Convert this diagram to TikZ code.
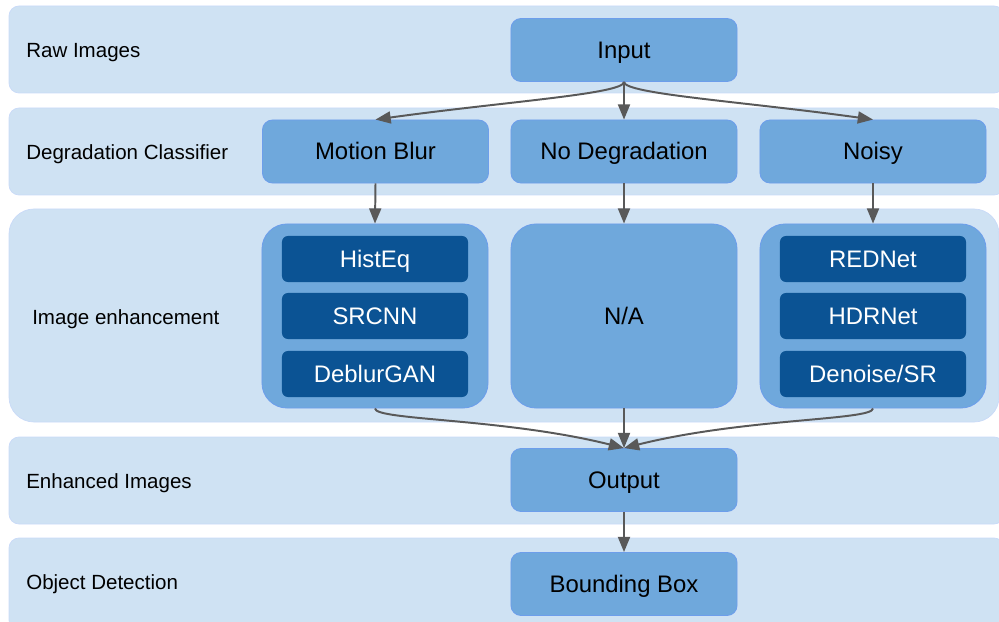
\documentclass[tikz,border=0pt]{standalone}
\usepackage{fontspec}
\setmainfont{Liberation Sans}
\usepackage{xcolor}
\usepackage{tikz}
\usetikzlibrary{arrows.meta}

\definecolor{lanebg}{HTML}{CFE2F3}
\definecolor{laneline}{HTML}{C9DAF8}
\definecolor{stagebg}{HTML}{6FA8DC}
\definecolor{stageline}{HTML}{6D9EEB}
\definecolor{methodbg}{HTML}{0B5394}
\definecolor{flowgray}{HTML}{595959}

\begin{document}
\begin{tikzpicture}[x=0.025cm, y=-0.025cm,
    >={Triangle[length=0.38cm, width=0.3cm]},
    lane/.style={fill=lanebg, draw=laneline, line width=0.5pt, rounded corners=0.25cm},
    lanelabel/.style={anchor=west, inner sep=0pt, text height=13.2pt, text depth=3.1pt,
      font=\fontsize{14.6}{17}\selectfont},
    stage/.style={fill=stagebg, draw=stageline, line width=0.6pt, rounded corners=0.25cm,
      minimum width=5.65cm, minimum height=1.575cm, inner sep=0pt,
      text height=15.4pt, text depth=3.6pt, font=\fontsize{17}{20}\selectfont},
    group/.style={stage, minimum height=4.6cm, rounded corners=0.625cm},
    method/.style={fill=methodbg, draw=none, rounded corners=0.15cm, text=white,
      minimum width=4.65cm, minimum height=1.15cm, inner sep=0pt,
      text height=15.4pt, text depth=3.6pt, font=\fontsize{17}{20}\selectfont},
    flow/.style={->, draw=flowgray, line width=1.4pt}]
  \useasboundingbox (0,0) rectangle (999,622);
  \clip (0,0) rectangle (999,622);
  % ============= Lanes =============
  \draw[lane] (9,6)   rectangle (1004,93);
  \draw[lane] (9,108) rectangle (1004,195);
  \draw[lane, rounded corners=0.625cm] (9,209) rectangle (999,422);
  \draw[lane] (9,437) rectangle (1004,524);
  \draw[lane] (9,538) rectangle (1004,630);
  \node[lanelabel] (lraw)  at (26,50)  {Raw Images};
  \node[lanelabel] (lclass) at (26,152) {Degradation Classifier};
  \node[lanelabel] (lenh)  at (32,317) {Image enhancement};
  \node[lanelabel] (lout)  at (26,481) {Enhanced Images};
  \node[lanelabel] (ldet)  at (26,582) {Object Detection};
  % ============= Stages =============
  \node[stage] (input)  at (624,50)    {Input};
  \node[stage] (mblur)  at (375.5,151.5) {Motion Blur};
  \node[stage] (nodeg)  at (624,151.5) {No Degradation};
  \node[stage] (noisy)  at (873,151.5) {Noisy};
  % enhancement groups
  \node[group] (lgroup) at (375,316) {};
  \node[group] (na)     at (624,316) {N/A};
  \node[group] (rgroup) at (873,316) {};
  \node[method] (histeq)  at (375,259) {HistEq};
  \node[method] (srcnn)   at (375,316) {SRCNN};
  \node[method] (deblur)  at (375,374) {DeblurGAN};
  \node[method] (rednet)  at (873,259) {REDNet};
  \node[method] (hdrnet)  at (873,316) {HDRNet};
  \node[method] (denoise) at (873,374) {Denoise/SR};
  \node[stage] (output) at (624,480) {Output};
  \node[stage] (bbox)   at (624,584) {Bounding Box};
  % --- arrows input -> classes ---
  \draw[flow] (input.south) .. controls +(0,12) and +(130,-18) .. (mblur.north);
  \draw[flow] (input.south) -- (nodeg.north);
  \draw[flow] (input.south) .. controls +(0,12) and +(-130,-18) .. (noisy.north);
  % --- arrows classes -> enhancement ---
  \draw[flow] (mblur.south) -- (lgroup.north);
  \draw[flow] (nodeg.south) -- (na.north);
  \draw[flow] (noisy.south) -- (rgroup.north);
  % --- arrows enhancement -> output ---
  \draw[flow] (lgroup.south) .. controls +(0,12) and +(-120,-30) .. (output.north);
  \draw[flow] (na.south) -- (output.north);
  \draw[flow] (rgroup.south) .. controls +(0,12) and +(120,-30) .. (output.north);
  \draw[flow] (output.south) -- (bbox.north);
\end{tikzpicture}
\end{document}
